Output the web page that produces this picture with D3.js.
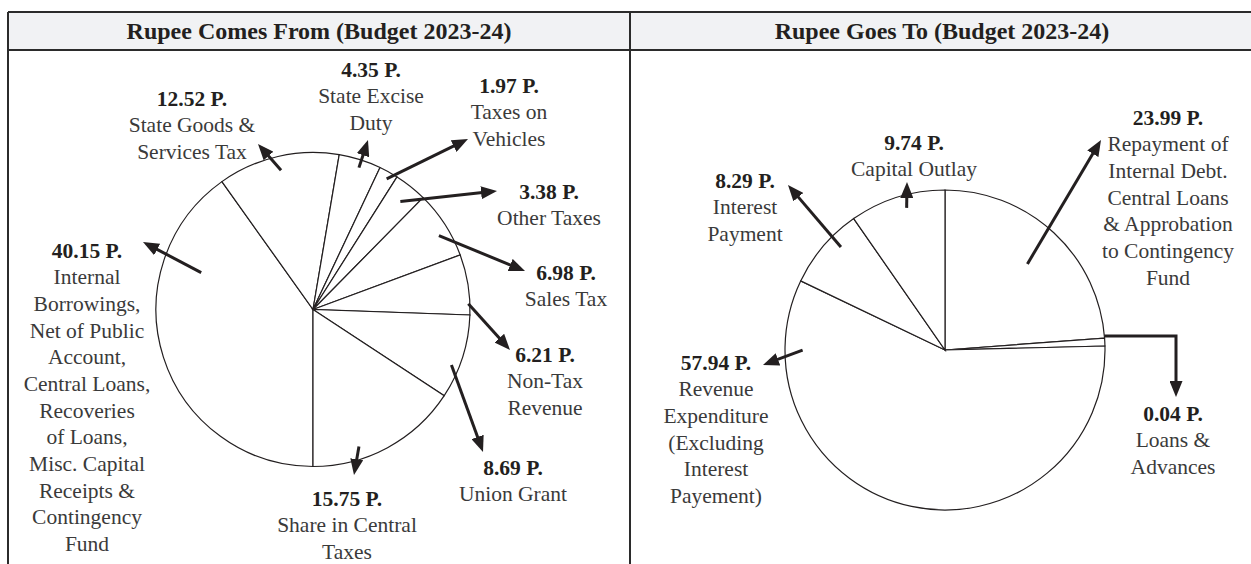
<!DOCTYPE html>
<html>
<head>
<meta charset="utf-8">
<script src="https://cdn.jsdelivr.net/npm/d3@7"></script>
<style>
  body { margin: 0; background: #fff; }
  svg { display: block; font-family: "Liberation Serif", "Times New Roman", serif; }
  .slice { fill: #fff; stroke: #231f20; stroke-width: 1.2; }
  .arrow { fill: none; stroke: #231f20; stroke-width: 3; }
  .val { font-weight: bold; fill: #231f20; }
  .name { fill: #3a3a3a; }
  .title { font-weight: bold; fill: #231f20; font-size: 24px; }
</style>
</head>
<body>
<div id="chart"></div>
<script>
// panel titles
const panelTitles = ["Rupee Comes From (Budget 2023-24)", "Rupee Goes To (Budget 2023-24)"];

// Rupee comes from (paise), in drawing order
const comesNames = [
  ["Internal", "Borrowings,", "Net of  Public", "Account,", "Central Loans,", "Recoveries", "of  Loans,", "Misc. Capital", "Receipts &", "Contingency", "Fund"],
  ["State Goods &", "Services Tax"],
  ["State Excise", "Duty"],
  ["Taxes on", "Vehicles"],
  ["Other Taxes"],
  ["Sales Tax"],
  ["Non-Tax", "Revenue"],
  ["Union Grant"],
  ["Share in Central", "Taxes"]
];
const comesValues = [40.15, 12.52, 4.35, 1.97, 3.38, 6.98, 6.21, 8.69, 15.75];

// Rupee goes to (paise)
const goesNames = [
  ["Repayment of", "Internal Debt.", "Central Loans", "& Approbation", "to Contingency", "Fund"],
  ["Loans &", "Advances"],
  ["Revenue", "Expenditure", "(Excluding", "Interest", "Payement)"],
  ["Interest", "Payment"],
  ["Capital Outlay"]
];
const goesValues = [23.99, 0.04, 57.94, 8.29, 9.74];

// callout layout: label anchor, arrow start (angle offset from slice middle, radius share), arrow tip
const comesLayout = [
  { label: [87, 250], off: 36, rf: 0.75, tip: [143, 242] },
  { label: [192, 98], off: 0, rf: 0.91, tip: [258, 144] },
  { label: [371, 69], off: 0.5, rf: 0.95, tip: [368, 140] },
  { label: [509, 85], off: 0.6, rf: 0.955, tip: [468, 139] },
  { label: [549, 191], off: 0.5, rf: 0.885, tip: [497, 191] },
  { label: [566, 272], off: 2.5, rf: 0.93, tip: [525, 271] },
  { label: [545, 354], off: 7, rf: 0.99, tip: [510, 350] },
  { label: [513, 467], off: 4.2, rf: 0.95, tip: [483, 452] },
  { label: [347, 498], off: 9.8, rf: 0.92, tip: [354, 475] }
];
const goesLayout = [
  { label: [1168, 117], off: 0.9, rf: 0.745, tip: [1101, 140] },
  { label: [1173, 413], off: -2.2, rf: 1.0, tip: [1176, 397], elbow: true },
  { label: [716, 362], off: 77.9, rf: 0.89, tip: [763, 365] },
  { label: [745, 180], off: 4.3, rf: 0.915, tip: [788, 185] },
  { label: [914, 142], off: 2.3, rf: 0.92, tip: [907, 182] }
];

const width = 1251, height = 564;
const frame = { left: 8, top: 12, headBottom: 50, divider: 630, right: 1254 };
const lineGap = 26.67;
const fmt = d3.format(".2f");

const svg = d3.select("#chart").append("svg")
  .attr("width", width)
  .attr("height", height);

// arrow head
svg.append("defs").append("marker")
  .attr("id", "head")
  .attr("markerUnits", "userSpaceOnUse")
  .attr("viewBox", "0 0 16 13")
  .attr("markerWidth", 16)
  .attr("markerHeight", 13)
  .attr("refX", 6)
  .attr("refY", 6.5)
  .attr("orient", "auto")
  .append("path")
  .attr("d", "M0,0 L16,6.5 L0,13 Z")
  .attr("fill", "#231f20");

// header band + frame
svg.append("rect")
  .attr("x", frame.left).attr("y", frame.top)
  .attr("width", frame.right - frame.left)
  .attr("height", frame.headBottom - frame.top)
  .attr("fill", "#f1f2f4");

const frameLines = [
  [frame.left, frame.top, frame.right, frame.top],
  [frame.left, frame.headBottom, frame.right, frame.headBottom],
  [frame.left, frame.top, frame.left, height],
  [frame.divider, frame.top, frame.divider, height],
  [frame.right, frame.top, frame.right, height]
];
svg.selectAll(".frame").data(frameLines).enter().append("line")
  .attr("x1", d => d[0]).attr("y1", d => d[1])
  .attr("x2", d => d[2]).attr("y2", d => d[3])
  .attr("stroke", "#2b2b2b").attr("stroke-width", 2);

svg.selectAll(".title").data(panelTitles).enter().append("text")
  .attr("class", "title")
  .attr("x", (d, i) => i === 0 ? (frame.left + frame.divider) / 2 : (frame.divider + frame.right) / 2)
  .attr("y", (frame.top + frame.headBottom) / 2)
  .attr("dy", "0.35em")
  .attr("text-anchor", "middle")
  .text(d => d);

function polar(cx, cy, r, a) {
  return [cx + r * Math.sin(a), cy - r * Math.cos(a)];
}

function drawPie(opts) {
  const { cx, cy, r, values, names, layout, start, minShare } = opts;
  const pie = d3.pie()
    .sort(null)
    .startAngle(start)
    .endAngle(start + 2 * Math.PI)
    .value(d => Math.max(d, minShare)); // tiny slices get a visible sliver
  const arcs = pie(values);
  const arc = d3.arc().innerRadius(0).outerRadius(r);

  const g = svg.append("g");
  g.selectAll("path.slice").data(arcs).enter().append("path")
    .attr("class", "slice")
    .attr("transform", `translate(${cx},${cy})`)
    .attr("d", arc);

  // callout arrows
  arcs.forEach((a, i) => {
    const L = layout[i];
    const mid = (a.startAngle + a.endAngle) / 2 + L.off * Math.PI / 180;
    const s = polar(cx, cy, r * L.rf, mid);
    const t = L.tip;
    let d;
    if (L.elbow) {
      d = `M${s[0]},${s[1]} H${t[0]} V${t[1] - 10}`;
    } else {
      const dx = t[0] - s[0], dy = t[1] - s[1];
      const len = Math.hypot(dx, dy);
      const e = [t[0] - dx / len * 10, t[1] - dy / len * 10];
      d = d3.line()([s, e]);
    }
    g.append("path")
      .attr("class", "arrow")
      .attr("d", d)
      .attr("marker-end", "url(#head)");
  });

  // labels
  const labels = g.selectAll("text.lbl").data(arcs).enter().append("text")
    .attr("class", "lbl")
    .attr("text-anchor", "middle")
    .attr("font-size", "21.5px");
  labels.each(function (a, i) {
    const L = layout[i];
    const t = d3.select(this);
    t.append("tspan")
      .attr("class", "val")
      .attr("x", L.label[0])
      .attr("y", L.label[1])
      .attr("dy", "0.35em")
      .text(fmt(values[i]) + " P.");
    names[i].forEach((line, j) => {
      t.append("tspan")
        .attr("class", "name")
        .attr("x", L.label[0])
        .attr("y", L.label[1] + (j + 1) * lineGap)
        .attr("dy", "0.35em")
        .text(line);
    });
  });
}

drawPie({ cx: 313, cy: 309.5, r: 157, values: comesValues, names: comesNames, layout: comesLayout, start: Math.PI, minShare: 0 });
drawPie({ cx: 945, cy: 350, r: 160, values: goesValues, names: goesNames, layout: goesLayout, start: 0, minShare: 0.8 });
</script>
</body>
</html>
